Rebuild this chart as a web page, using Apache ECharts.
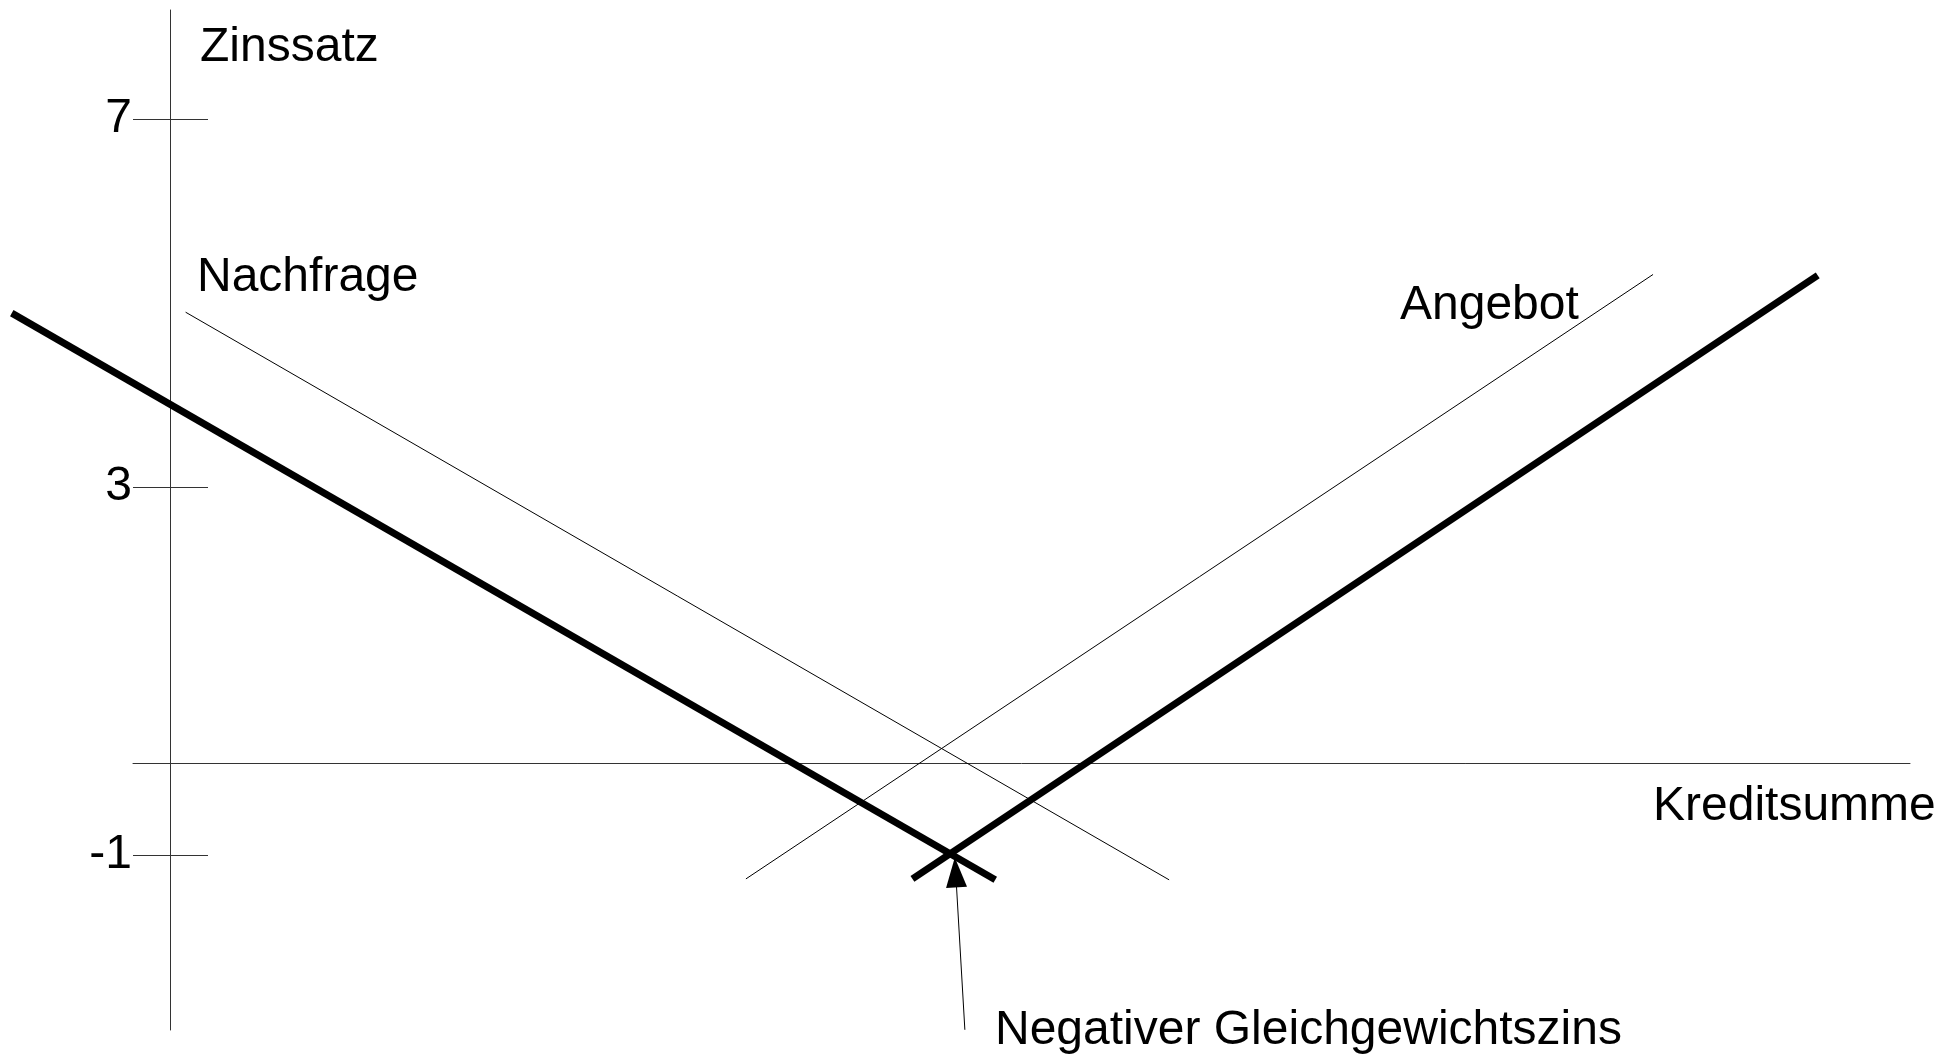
<!DOCTYPE html>
<html>
<head>
<meta charset="utf-8">
<title>Kreditmarkt</title>
<script src="https://cdn.jsdelivr.net/npm/echarts@6/dist/echarts.min.js"></script>
<style>
  html, body { margin: 0; padding: 0; background: #fff; }
  #chart { width: 1956px; height: 1055px; }
</style>
</head>
<body>
<div id="chart"></div>
<script>
// Geraden als [Kreditsumme, Zinssatz] (Anfang, Ende)
const demandThick = [[-1.72, 4.89], [8.97, -1.27]];
const demandThin = [[0.17, 4.90], [10.86, -1.27]];
const supplyThick = [[8.07, -1.26], [17.91, 5.30]];
const supplyThin = [[6.26, -1.26], [16.12, 5.31]];
const arrow = [[8.64, -2.90], [8.54, -1.19]];
const yTicks = [7, 3, -1];

const FONT = "Liberation Sans";
const axisColor = "#333";
const yMin = -2.9022, yMax = 8.1848;

const chart = echarts.init(document.getElementById("chart"));

function lineSeries(name, data, width, gridIdx) {
  return {
    name: name,
    type: "line",
    data: data,
    xAxisIndex: gridIdx,
    yAxisIndex: gridIdx === 1 ? 2 : 0,
    showSymbol: false,
    symbol: "none",
    clip: false,
    silent: true,
    lineStyle: { color: "#000", width: width, cap: "butt" }
  };
}

const textStyle = { fontFamily: FONT, fontSize: 48, fill: "#000" };
function label(text, x, y) {
  return {
    type: "text",
    left: x,
    top: y - 24,
    style: Object.assign({ text: text }, textStyle)
  };
}

chart.setOption({
  animation: false,
  backgroundColor: "#fff",
  grid: [
    { left: 133, right: 46, top: 10, bottom: 25, outerBoundsMode: "none" },
    // zweites Raster, gleiche Skala, reicht bis zum linken Rand (fuer die dicke Nachfragekurve)
    { left: 0, right: 46, top: 10, bottom: 25, outerBoundsMode: "none" }
  ],
  xAxis: [
    {
      type: "value",
      gridIndex: 0,
      min: -0.402,
      max: 18.913,
      axisLine: { onZero: true, lineStyle: { color: axisColor, width: 1 } },
      axisTick: { show: false },
      axisLabel: { show: false },
      splitLine: { show: false }
    },
    {
      type: "value",
      gridIndex: 1,
      min: -1.848,
      max: 18.913,
      show: false
    }
  ],
  yAxis: [
    {
      type: "value",
      gridIndex: 0,
      min: yMin,
      max: yMax,
      position: "left",
      offset: -37,
      axisLine: { show: true, onZero: false, lineStyle: { color: axisColor, width: 1 } },
      axisTick: { show: true, length: 37, customValues: yTicks, lineStyle: { color: axisColor, width: 1 } },
      axisLabel: { show: true, customValues: yTicks, margin: 38, color: "#000", fontFamily: FONT, fontSize: 48 },
      splitLine: { show: false }
    },
    {
      type: "value",
      gridIndex: 0,
      min: yMin,
      max: yMax,
      position: "left",
      offset: -37,
      axisLine: { show: false, onZero: false },
      axisTick: { show: true, inside: true, length: 38, customValues: yTicks, lineStyle: { color: axisColor, width: 1 } },
      axisLabel: { show: false },
      splitLine: { show: false }
    },
    {
      type: "value",
      gridIndex: 1,
      min: yMin,
      max: yMax,
      show: false
    }
  ],
  series: [
    lineSeries("Nachfrage (neu)", demandThick, 7, 1),
    lineSeries("Nachfrage", demandThin, 1, 0),
    lineSeries("Angebot (neu)", supplyThick, 7, 0),
    lineSeries("Angebot", supplyThin, 1, 0),
    {
      name: "Pfeil",
      type: "line",
      data: [],
      silent: true,
      markLine: {
        silent: true,
        symbol: ["none", "triangle"],
        symbolSize: [21, 30],
        label: { show: false },
        lineStyle: { color: "#000", width: 1, type: "solid" },
        emphasis: { disabled: true },
        data: [[{ coord: arrow[0] }, { coord: arrow[1] }]]
      }
    }
  ],
  graphic: [
    label("Zinssatz", 200, 48),
    label("Nachfrage", 197, 278),
    label("Angebot", 1400, 306),
    label("Kreditsumme", 1653, 807),
    label("Negativer Gleichgewichtszins", 995, 1031)
  ]
});
</script>
</body>
</html>
